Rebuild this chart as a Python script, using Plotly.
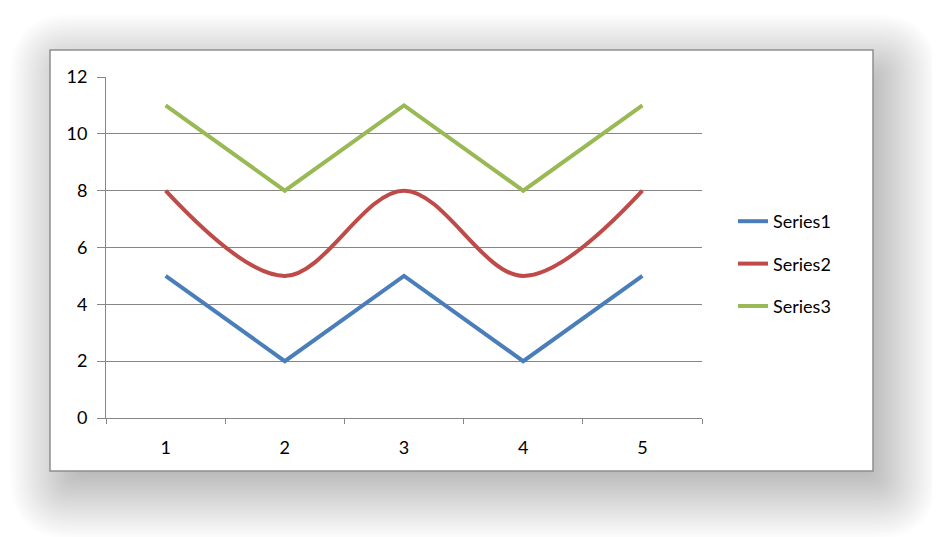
import plotly.graph_objects as go

categories = ["1", "2", "3", "4", "5"]
series1 = [5, 2, 5, 2, 5]
series2 = [8, 5, 8, 5, 8]
series3 = [11, 8, 11, 8, 11]
names = ["Series1", "Series2", "Series3"]
colors = ["#4A7EBB", "#BE4B48", "#98B954"]

# page body has an 8px margin, so everything is laid out 8px up/left
OFF = 8
W, H = 940 - OFF, 537 - OFF
L, R, T, B = 106 - OFF, 702 - OFF, 77 - OFF, 418 - OFF


def px(x):
    return (x - OFF - L) / (R - L)


def py(y):
    return (B - (y - OFF)) / (B - T)


def rounded_rect(x0, y0, x1, y1, rad):
    # pixel coords (reference image), returns path in paper coords
    if rad <= 0:
        return (f"M{px(x0)},{py(y0)} L{px(x1)},{py(y0)} L{px(x1)},{py(y1)} "
                f"L{px(x0)},{py(y1)} Z")
    return (f"M{px(x0 + rad)},{py(y0)} L{px(x1 - rad)},{py(y0)} "
            f"Q{px(x1)},{py(y0)} {px(x1)},{py(y0 + rad)} "
            f"L{px(x1)},{py(y1 - rad)} Q{px(x1)},{py(y1)} {px(x1 - rad)},{py(y1)} "
            f"L{px(x0 + rad)},{py(y1)} Q{px(x0)},{py(y1)} {px(x0)},{py(y1 - rad)} "
            f"L{px(x0)},{py(y0 + rad)} Q{px(x0)},{py(y0)} {px(x0 + rad)},{py(y0)} Z")


fig = go.Figure()
fig.add_trace(go.Scatter(x=categories, y=series1, name=names[0], mode="lines",
                         line=dict(color=colors[0], width=4), legendgroup="a"))
fig.add_trace(go.Scatter(x=categories, y=series2, name=names[1], mode="lines",
                         line=dict(color=colors[1], width=4, shape="spline", smoothing=1),
                         legendgroup="b"))
fig.add_trace(go.Scatter(x=categories, y=series3, name=names[2], mode="lines",
                         line=dict(color=colors[2], width=4), legendgroup="c"))

shapes = []
bx0, by0, bx1, by1 = 50, 50, 873, 471
dx, dy = 12, 16
for e in range(52, -22, -2):
    shapes.append(dict(type="path", xref="paper", yref="paper", layer="below",
                       path=rounded_rect(bx0 + dx - e, by0 + dy - e, bx1 + dx + e, by1 + dy + e,
                                         max(e, 0) + 10),
                       line=dict(width=0), fillcolor="rgba(0,0,0,0.0095)"))
shapes.append(dict(type="rect", xref="paper", yref="paper", layer="below",
                   x0=px(bx0), x1=px(bx1), y0=py(by1), y1=py(by0),
                   line=dict(color="#8E8E8E", width=1.5), fillcolor="white"))

font = dict(family="Lato, Carlito, Calibri, sans-serif", size=18, color="black")

fig.update_layout(
    width=W, height=H,
    margin=dict(l=L, r=W - R, t=T, b=H - B),
    paper_bgcolor="white", plot_bgcolor="rgba(0,0,0,0)",
    font=font,
    shapes=shapes,
    showlegend=True,
    legend=dict(x=px(733), y=py(203), xanchor="left", yanchor="top",
                bgcolor="rgba(0,0,0,0)", traceorder="grouped", tracegroupgap=16,
                font=font, itemwidth=30),
    xaxis=dict(type="category", range=[-0.5, 4.5], showgrid=False, showline=True,
               linecolor="#868686", linewidth=1, ticks="outside", tickson="boundaries",
               ticklen=5, tickcolor="#868686", ticklabelstandoff=13, zeroline=False),
    yaxis=dict(range=[0, 12], dtick=2, showgrid=True, gridcolor="#868686", gridwidth=1,
               showline=True, linecolor="#868686", linewidth=1, ticks="outside",
               ticklen=8, tickcolor="#868686", zeroline=False, ticklabelstandoff=6),
)

fig.write_html("out.html")
